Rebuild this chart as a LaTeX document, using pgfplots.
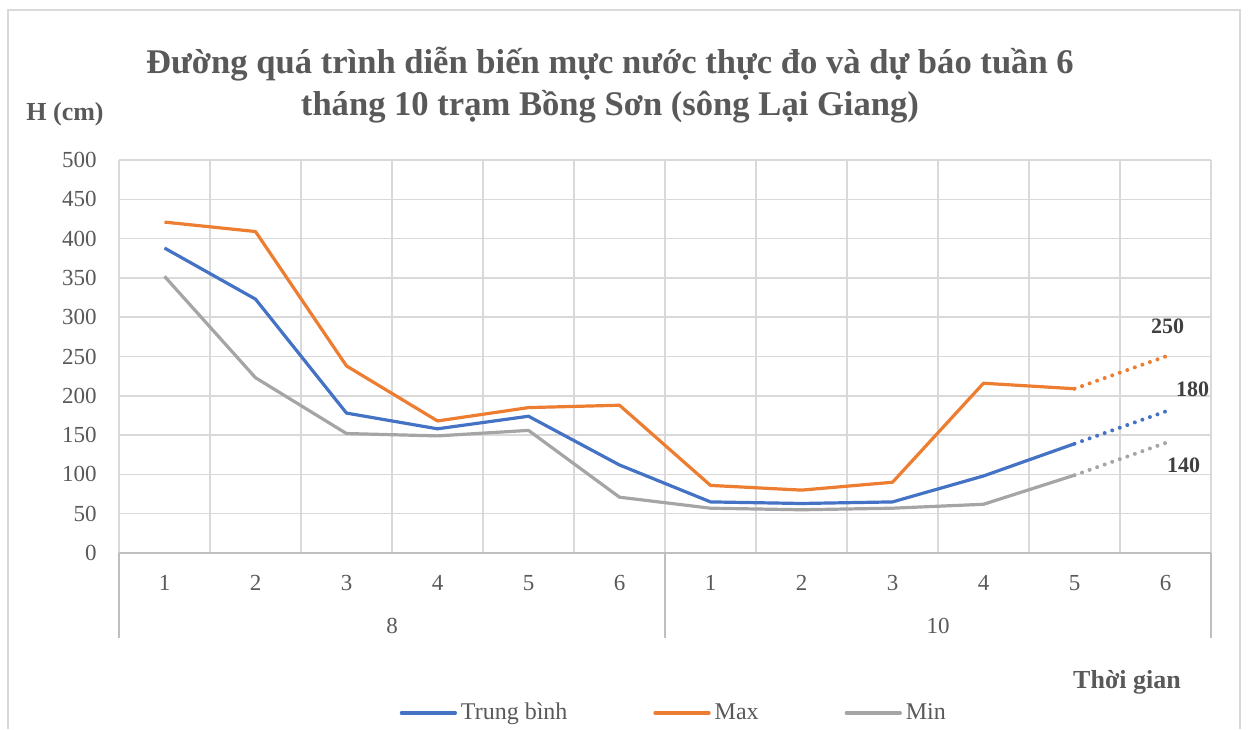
\documentclass[border=0pt]{standalone}
\usepackage{fontspec}
\setmainfont{Liberation Serif}
\usepackage{pgfplots}
\pgfplotsset{compat=1.18}
\definecolor{cblue}{HTML}{4472C4}
\definecolor{corange}{HTML}{ED7D31}
\definecolor{cgray}{HTML}{A5A5A5}
\definecolor{gridc}{HTML}{D9D9D9}
\definecolor{axc}{HTML}{BFBFBF}
\definecolor{txt}{HTML}{595959}
\definecolor{lbl}{HTML}{404040}
\begin{document}
\begin{tikzpicture}
\path[use as bounding box] (0pt,0pt) rectangle (624pt,364.5pt);
\draw[gridc, line width=0.7pt] (4pt,0pt) -- (4pt,359.5pt) -- (620pt,359.5pt) -- (620pt,0pt);
\node[text=txt, font=\bfseries\fontsize{17.3}{21}\selectfont, align=center] at (305pt,322pt)
  {Đường quá trình diễn biến mực nước thực đo và dự báo tuần 6\\tháng 10 trạm Bồng Sơn (sông Lại Giang)};
\node[text=txt, font=\bfseries\fontsize{13}{15}\selectfont] at (32.5pt,307.5pt) {H (cm)};
\node[text=txt, font=\bfseries\fontsize{13}{15}\selectfont] at (563.5pt,23.5pt) {Thời gian};
\begin{axis}[
  at={(59.5pt,88pt)}, anchor=south west,
  scale only axis, width=546pt, height=196.5pt,
  xmin=-0.5, xmax=11.5, ymin=0, ymax=500,
  clip=false,
  xtick={0,...,11}, xticklabels={1,2,3,4,5,6,1,2,3,4,5,6},
  minor xtick={-0.5,0.5,...,11.5}, minor x grid style={gridc, line width=0.75pt},
  xminorgrids,
  ytick={0,50,...,500}, ymajorgrids,
  major grid style={gridc, line width=0.75pt},
  major tick length=0pt, minor tick length=0pt,
  axis line style={draw=none},
  /pgf/number format/assume math mode=true,
  tick label style={font=\fontsize{11.5}{13}\selectfont, text=txt},
  yticklabel style={inner sep=0pt, anchor=east, xshift=-11pt},
  xticklabel style={inner sep=0pt, anchor=north, yshift=-11pt},
  legend columns=3,
  legend style={at={(0.509,-0.407)}, anchor=center, draw=none, fill=none,
    font=\fontsize{12}{14}\selectfont, text=txt,
    /tikz/every even column/.append style={column sep=41pt}},
  legend image code/.code={\draw[#1, line cap=round] (0pt,0pt) -- (27pt,0pt);},
  every axis plot/.append style={line width=1.6pt, line join=round},
]
\draw[axc, line width=0.75pt] (axis cs:-0.5,0) -- (axis cs:11.5,0);
\draw[axc, line width=0.75pt] (axis cs:-0.5,0) -- ++(0pt,-42.5pt);
\draw[axc, line width=0.75pt] (axis cs:5.5,0) -- ++(0pt,-42.5pt);
\draw[axc, line width=0.75pt] (axis cs:11.5,0) -- ++(0pt,-42.5pt);
\node[text=txt, font=\fontsize{11.5}{13}\selectfont] at ([yshift=-36.5pt]axis cs:2.5,0) {8};
\node[text=txt, font=\fontsize{11.5}{13}\selectfont] at ([yshift=-36.5pt]axis cs:8.5,0) {10};

\addplot[cblue] coordinates {(0,388)(1,323)(2,178)(3,158)(4,174)(5,112)(6,65)(7,63)(8,65)(9,98)(10,139)};
\addlegendentry{Trung bình}
\addplot[corange] coordinates {(0,421)(1,409)(2,238)(3,168)(4,185)(5,188)(6,86)(7,80)(8,90)(9,216)(10,209)};
\addlegendentry{Max}
\addplot[cgray] coordinates {(0,352)(1,223)(2,152)(3,149)(4,156)(5,71)(6,57)(7,55)(8,57)(9,62)(10,99)};
\addlegendentry{Min}

\addplot[cblue, forget plot, line width=2pt, line cap=round, dash pattern=on 0pt off 4pt] coordinates {(10,139)(11,180)};
\addplot[corange, forget plot, line width=2pt, line cap=round, dash pattern=on 0pt off 4pt] coordinates {(10,209)(11,250)};
\addplot[cgray, forget plot, line width=2pt, line cap=round, dash pattern=on 0pt off 4pt] coordinates {(10,99)(11,140)};

\node[text=lbl, font=\bfseries\fontsize{11}{13}\selectfont] at ([xshift=1pt,yshift=15pt]axis cs:11,250) {250};
\node[text=lbl, font=\bfseries\fontsize{11}{13}\selectfont] at ([xshift=13.5pt,yshift=11.25pt]axis cs:11,180) {180};
\node[text=lbl, font=\bfseries\fontsize{11}{13}\selectfont] at ([xshift=9pt,yshift=-11pt]axis cs:11,140) {140};
\end{axis}
\end{tikzpicture}
\end{document}
